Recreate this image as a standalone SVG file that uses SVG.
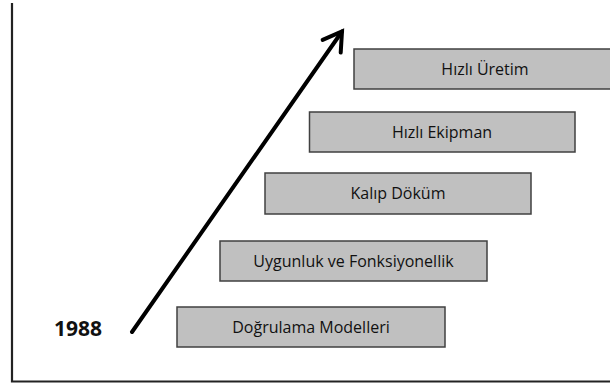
<svg xmlns="http://www.w3.org/2000/svg" width="610" height="385" viewBox="0 0 610 385">
<defs>
<style>
.box{fill:#c0c0c0;stroke:#404040;stroke-width:1.5}
.lbl{font-family:"Open Sans","Liberation Sans",sans-serif;font-size:16px;fill:#111;text-anchor:middle}
.yr{font-family:"Open Sans","Liberation Sans",sans-serif;font-size:21px;font-weight:bold;fill:#111}
</style>
<marker id="ah" markerUnits="userSpaceOnUse" markerWidth="30" markerHeight="30" refX="0" refY="0" orient="auto" overflow="visible">
<path d="M-18,-11 L0,0 L-18,11" fill="none" stroke="#000" stroke-width="4" stroke-linejoin="miter" stroke-linecap="round"/>
</marker>
</defs>
<rect width="610" height="385" fill="#fff"/>
<g id="frame">
<path d="M12,3 V381.5 H610" fill="none" stroke="#222" stroke-width="2.2"/>
</g>
<g id="connectors">
<line x1="132" y1="332" x2="342" y2="31.5" stroke="#000" stroke-width="4" stroke-linecap="round" marker-end="url(#ah)"/>
</g>
<g id="year">
<text class="yr" x="54" y="335.5">1988</text>
</g>
<g id="n1">
<rect class="box" x="354" y="49" width="262" height="40"/>
<text class="lbl" x="485" y="74.5">Hızlı Üretim</text>
</g>
<g id="n2">
<rect class="box" x="309.5" y="112" width="265.5" height="40"/>
<text class="lbl" x="442" y="137.5">Hızlı Ekipman</text>
</g>
<g id="n3">
<rect class="box" x="265" y="173" width="266" height="41"/>
<text class="lbl" x="398" y="199">Kalıp Döküm</text>
</g>
<g id="n4">
<rect class="box" x="220" y="241" width="267" height="40"/>
<text class="lbl" x="353.5" y="266.5">Uygunluk ve Fonksiyonellik</text>
</g>
<g id="n5">
<rect class="box" x="177" y="307" width="268" height="40"/>
<text class="lbl" x="311" y="332.5">Doğrulama Modelleri</text>
</g>
</svg>
